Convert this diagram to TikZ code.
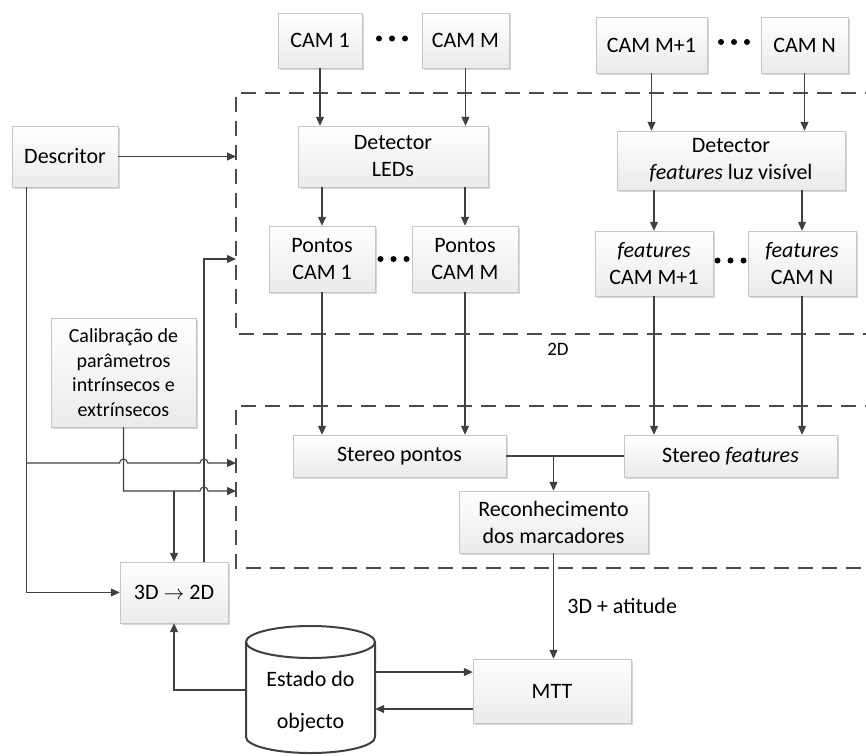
\documentclass[tikz,border=0pt]{standalone}
\usepackage{fontspec}
\setmainfont{Carlito}
\usetikzlibrary{arrows.meta,shadows,calc}

\begin{document}
\begin{tikzpicture}[x=1pt,y=-1pt,
  blk/.style={draw=gray!45, top color=white, bottom color=gray!16, drop shadow={shadow xshift=1.5pt,shadow yshift=-1.5pt,fill=gray!60,opacity=.5}, align=center, inner sep=0pt, font=\fontsize{22}{27}\selectfont},
  ln/.style={draw=black!75, line width=1.1pt},
  arr/.style={ln, -{Triangle[length=9pt,width=8pt]}},
  zone/.style={draw=black!70, line width=1.8pt, dash pattern=on 15pt off 9pt}]
\useasboundingbox (0,0) rectangle (866,755);
\clip (0,0) rectangle (866,755);

% zones
\coordinate (z1) at (236,93);
\coordinate (z2) at (236,406);
\draw[zone] (880,93) -- (z1) -- (236,334) -- (880,334);
\draw[zone] (880,406) -- (z2) -- (236,568) -- (880,568);
\node[font=\fontsize{19}{22}\selectfont] (lbl2d) at (558,349) {2D};

% cameras
\node[blk, minimum width=84pt, minimum height=55pt] (cam1) at (320,40.5) {CAM 1};
\node[blk, minimum width=87pt, minimum height=55pt] (camM) at (465.5,40.5) {CAM M};
\node[blk, minimum width=111pt, minimum height=56pt] (camM1) at (651.5,45) {CAM M+1};
\node[blk, minimum width=87pt, minimum height=56pt] (camN) at (804.5,45) {CAM N};

\node[blk, minimum width=106pt, minimum height=61pt] (desc) at (65,156.5) {Descritor};
\node[blk, minimum width=190pt, minimum height=61pt] (detL) at (393,156.5) {Detector\\LEDs};
\node[blk, minimum width=228pt, minimum height=59pt] (detF) at (731,160.5) {Detector\\\textit{features} luz visível};

\node[blk, minimum width=106pt, minimum height=66pt] (pt1) at (322,259) {Pontos\\CAM 1};
\node[blk, minimum width=106pt, minimum height=66pt] (ptM) at (465,259) {Pontos\\CAM M};
\node[blk, minimum width=118pt, minimum height=65pt] (ft1) at (654,263.5) {\textit{features}\\CAM M+1};
\node[blk, minimum width=108pt, minimum height=65pt] (ftN) at (802,263.5) {\textit{features}\\CAM N};

\node[blk, minimum width=145pt, minimum height=109pt, font=\fontsize{20}{24.5}\selectfont] (calib) at (123.5,372.5) {Calibração de\\parâmetros\\intrínsecos e\\extrínsecos};
\node[blk, minimum width=108pt, minimum height=61pt] (conv) at (174,592.5) {3D $\rightarrow$ 2D};

\node[blk, minimum width=213pt, minimum height=42pt] (stP) at (399.5,456) {Stereo pontos};
\node[blk, minimum width=213pt, minimum height=42pt] (stF) at (730.5,456) {Stereo \textit{features}};
\node[blk, minimum width=189pt, minimum height=62pt] (rec) at (553.5,522) {Reconhecimento\\dos marcadores};
\node[blk, minimum width=158pt, minimum height=64pt] (mtt) at (552,691) {MTT};

% database
\draw[black!75, line width=2pt, fill=white] (246,642) -- (246,737) arc[start angle=180, end angle=0, x radius=64.5, y radius=16] -- (375,642);
\draw[black!75, line width=2pt] (310.5,642) ellipse [x radius=64.5, y radius=16];
\node[minimum width=129pt, minimum height=128pt, inner sep=0pt, align=center, font=\fontsize{22}{42}\selectfont] (est) at (310.5,690) {\\[-4pt]Estado do\\objecto};

% dots
\foreach \a/\b/\dy in {cam1/camM/-2, camM1/camN/-3, pt1/ptM/0, ft1/ftN/-3}
  \foreach \d in {-13,0,13}
    \fill[black] ($(\a.east)!.5!(\b.west)+(\d,\dy)$) circle (3pt);

% connectors
\draw[arr] (cam1) -- (cam1 |- detL.north);
\draw[arr] (camM) -- (camM |- detL.north);
\draw[arr] (camM1) -- (camM1 |- detF.north);
\draw[arr] (camN) -- (camN |- detF.north);
\draw[arr] (pt1 |- detL.south) -- (pt1);
\draw[arr] (ptM |- detL.south) -- (ptM);
\draw[arr] (ft1 |- detF.south) -- (ft1);
\draw[arr] (ftN |- detF.south) -- (ftN);
\draw[arr] (pt1) -- (pt1 |- stP.north);
\draw[arr] (ptM) -- (ptM |- stP.north);
\draw[arr] (ft1) -- (ft1 |- stF.north);
\draw[arr] (ftN) -- (ftN |- stF.north);
\draw[ln] (stP) -- (stF);
\draw[arr] (rec |- stP.east) -- (rec);
\draw[arr] (rec) -- (rec |- mtt.north) node[midway, right=10pt, font=\fontsize{22}{27}\selectfont] {3D + atitude};

\coordinate (m1) at ([yshift=19pt]mtt.west);
\coordinate (m2) at ([yshift=-18pt]mtt.west);
\draw[arr] (m1 -| est.east) -- (m1);
\draw[arr] (m2) -- (m2 -| est.east);
\draw[arr] (est.west) -| (conv.south);

\coordinate (dx) at ([xshift=15pt]desc.south west);
\coordinate (j1) at (27,463);
\coordinate (j2) at (123.5,491);
\coordinate (fb) at ([xshift=30pt]conv.north);
\draw[arr] (desc) -- (desc -| z1);
\draw[arr] (dx) |- (conv);
\draw[arr] (j1) -- (119.5,463) arc[start angle=180, end angle=360, radius=4] -- (200,463) arc[start angle=180, end angle=360, radius=4] -- (j1 -| z2);
\draw[arr] (calib) -- (j2) -- (200,491) arc[start angle=180, end angle=360, radius=4] -- (j2 -| z2);
\draw[arr] (conv.north |- j2) -- (conv);
\draw[arr] (fb) -- (fb |- pt1) -- (pt1 -| z1);
\end{tikzpicture}
\end{document}
